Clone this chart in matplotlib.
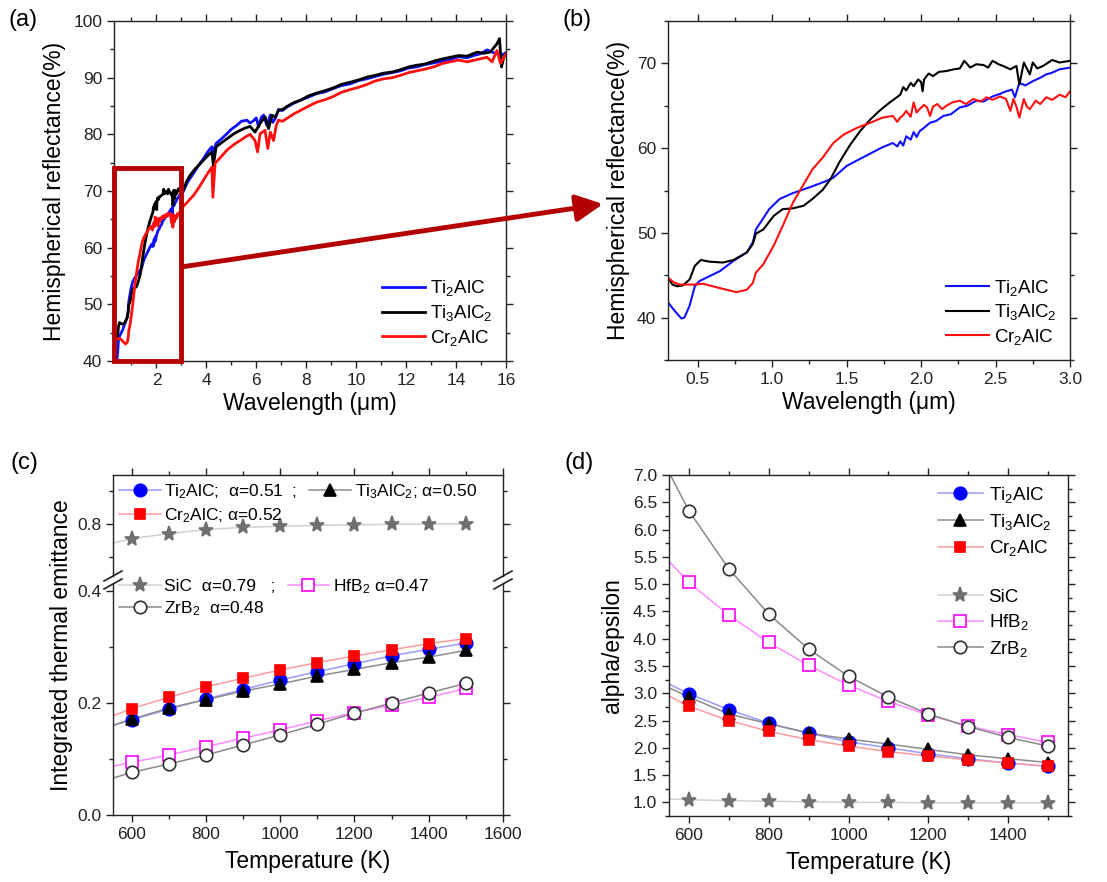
import matplotlib
matplotlib.use('Agg')
import matplotlib.pyplot as plt
from matplotlib.lines import Line2D
from matplotlib.patches import Rectangle
from matplotlib.ticker import MultipleLocator

plt.rcParams['font.family'] = ['Liberation Sans', 'DejaVu Sans']
plt.rcParams['mathtext.fontset'] = 'custom'
plt.rcParams['mathtext.rm'] = 'Liberation Sans'
plt.rcParams['mathtext.it'] = 'Liberation Sans:italic'
plt.rcParams['mathtext.default'] = 'rm'
plt.rcParams['axes.linewidth'] = 1.0

# ---- spectra (wavelength um, reflectance %) (a) and (b)
ti2alc_spec = [
    (0.30, 41.8), (0.345, 40.8), (0.39, 39.9), (0.41, 40.0), (0.445, 41.4),
    (0.48, 43.7), (0.51, 44.3), (0.65, 45.5), (0.74, 46.7), (0.83, 47.7),
    (0.87, 48.9), (0.89, 50.4), (0.92, 51.2), (0.98, 52.8), (1.05, 54.0),
    (1.14, 54.7), (1.27, 55.5), (1.36, 56.1), (1.41, 56.5), (1.50, 57.9),
    (1.63, 59.1), (1.74, 60.1), (1.81, 60.6), (1.84, 60.2), (1.86, 60.8),
    (1.88, 60.3), (1.90, 61.4), (1.93, 61.0), (1.95, 61.9), (1.97, 61.3),
    (1.99, 62.0), (2.02, 62.4), (2.06, 63.0), (2.10, 63.2), (2.15, 63.8),
    (2.20, 64.0), (2.26, 64.8), (2.31, 65.0), (2.37, 65.6), (2.42, 65.5),
    (2.48, 66.1), (2.53, 66.4), (2.57, 66.7), (2.61, 66.9), (2.63, 66.0),
    (2.66, 67.7), (2.70, 67.4), (2.75, 67.9), (2.80, 68.3), (2.84, 68.7),
    (2.88, 68.9), (2.93, 69.3), (3.00, 69.5), (3.06, 69.8), (3.25, 71.6),
    (3.48, 73.1), (3.70, 74.6), (3.88, 75.7), (4.05, 76.9), (4.22, 77.8),
    (4.26, 76.0), (4.30, 77.2), (4.39, 78.4), (4.60, 79.2), (4.82, 80.1),
    (5.00, 80.9), (5.22, 81.6), (5.40, 82.3), (5.62, 82.5), (5.75, 82.0),
    (5.89, 82.4), (6.00, 82.9), (6.09, 81.3), (6.20, 83.0), (6.29, 83.4),
    (6.42, 81.6), (6.56, 83.4), (6.66, 82.1), (6.76, 82.8), (6.89, 84.4),
    (7.05, 84.2), (7.22, 84.8), (7.50, 85.5), (7.76, 86.0), (8.10, 86.6),
    (8.43, 87.2), (8.75, 87.5), (9.09, 88.1), (9.40, 88.6), (9.76, 88.9),
    (10.10, 89.5), (10.43, 89.8), (10.75, 90.2), (11.10, 90.6), (11.45, 90.9),
    (11.77, 91.2), (12.10, 91.7), (12.43, 91.9), (12.75, 92.3), (13.10, 92.6),
    (13.45, 92.9), (13.77, 93.2), (14.10, 93.7), (14.44, 93.5), (14.70, 93.9),
    (14.97, 94.2), (15.24, 94.9), (15.51, 94.4), (15.78, 93.9), (16.00, 94.4),
]

ti3alc2_spec = [
    (0.30, 44.7), (0.33, 43.9), (0.36, 43.7), (0.40, 43.8), (0.445, 44.5),
    (0.48, 46.1), (0.52, 46.8), (0.58, 46.6), (0.67, 46.5), (0.74, 46.8),
    (0.83, 47.7), (0.87, 48.7), (0.89, 49.9), (0.94, 50.4), (1.01, 52.0),
    (1.07, 52.8), (1.14, 52.9), (1.21, 53.2), (1.27, 54.0), (1.34, 55.1),
    (1.39, 56.3), (1.45, 58.3), (1.52, 60.3), (1.59, 62.0), (1.66, 63.4),
    (1.72, 64.4), (1.79, 65.4), (1.86, 66.3), (1.88, 67.2), (1.90, 66.8),
    (1.93, 67.7), (1.95, 67.3), (1.98, 68.1), (2.00, 67.8), (2.01, 66.7),
    (2.02, 68.1), (2.05, 68.8), (2.08, 68.5), (2.12, 69.0), (2.17, 69.1),
    (2.22, 69.3), (2.26, 69.4), (2.29, 70.3), (2.33, 69.5), (2.37, 69.9),
    (2.42, 69.8), (2.45, 69.5), (2.48, 70.3), (2.52, 69.9), (2.55, 69.7),
    (2.60, 69.3), (2.64, 69.7), (2.66, 67.5), (2.69, 70.1), (2.73, 68.7),
    (2.75, 70.1), (2.78, 69.4), (2.82, 69.7), (2.88, 70.4), (2.93, 70.1),
    (3.00, 70.3), (3.06, 70.0), (3.20, 71.6), (3.35, 72.8), (3.55, 73.9),
    (3.75, 74.8), (4.00, 76.0), (4.22, 76.9), (4.28, 74.5), (4.39, 77.8),
    (4.60, 78.5), (4.82, 79.2), (5.10, 80.1), (5.35, 80.7), (5.55, 81.1),
    (5.75, 81.4), (5.95, 80.4), (6.15, 81.9), (6.35, 83.1), (6.49, 81.0),
    (6.62, 83.4), (6.75, 83.0), (6.89, 84.2), (7.05, 84.4), (7.22, 84.9),
    (7.50, 85.6), (7.76, 86.0), (8.10, 86.8), (8.43, 87.3), (8.75, 87.7),
    (9.09, 88.2), (9.40, 88.8), (9.76, 89.2), (10.10, 89.6), (10.43, 90.1),
    (10.75, 90.4), (11.10, 90.8), (11.45, 91.0), (11.77, 91.4), (12.10, 91.9),
    (12.43, 92.2), (12.75, 92.4), (13.10, 92.9), (13.45, 93.3), (13.77, 93.6),
    (14.10, 93.9), (14.44, 93.8), (14.84, 94.5), (15.10, 94.3), (15.37, 94.5),
    (15.64, 96.0), (15.74, 96.9), (15.82, 91.9), (15.91, 93.6), (16.00, 94.2),
]

cr2alc_spec = [
    (0.30, 44.7), (0.345, 44.1), (0.38, 43.9), (0.47, 43.9), (0.535, 44.0),
    (0.60, 43.7), (0.69, 43.3), (0.76, 43.0), (0.83, 43.3), (0.87, 44.1),
    (0.89, 45.3), (0.94, 46.3), (1.01, 48.5), (1.07, 50.8), (1.14, 53.6),
    (1.21, 55.7), (1.27, 57.5), (1.34, 58.9), (1.41, 60.6), (1.48, 61.6),
    (1.57, 62.4), (1.66, 63.0), (1.74, 63.6), (1.81, 63.8), (1.84, 63.1),
    (1.86, 63.6), (1.88, 63.9), (1.90, 64.4), (1.93, 63.7), (1.95, 65.4),
    (1.97, 64.2), (1.99, 64.6), (2.02, 65.1), (2.04, 64.8), (2.06, 63.8),
    (2.08, 64.9), (2.11, 65.2), (2.14, 64.6), (2.17, 65.0), (2.21, 65.4),
    (2.26, 65.6), (2.30, 65.2), (2.35, 65.8), (2.40, 65.5), (2.44, 66.0),
    (2.48, 65.7), (2.53, 66.1), (2.57, 65.8), (2.60, 64.4), (2.62, 65.8),
    (2.64, 64.9), (2.66, 63.6), (2.69, 65.8), (2.71, 64.9), (2.73, 64.6),
    (2.77, 65.6), (2.80, 65.2), (2.84, 66.0), (2.88, 65.7), (2.93, 66.3),
    (2.97, 66.0), (3.00, 66.7), (3.06, 67.2), (3.25, 68.1), (3.48, 69.2),
    (3.70, 70.6), (3.88, 71.9), (4.05, 73.1), (4.22, 74.2), (4.26, 68.9),
    (4.35, 74.9), (4.60, 76.1), (4.82, 77.2), (5.10, 78.2), (5.35, 78.9),
    (5.55, 79.5), (5.75, 80.0), (5.95, 78.9), (6.05, 76.9), (6.15, 80.1),
    (6.35, 80.7), (6.46, 77.5), (6.56, 80.4), (6.69, 78.9), (6.80, 81.6),
    (6.89, 82.5), (7.05, 82.3), (7.22, 82.8), (7.50, 83.6), (7.76, 84.2),
    (8.10, 85.0), (8.43, 85.7), (8.75, 86.1), (9.09, 86.7), (9.40, 87.4),
    (9.76, 87.9), (10.10, 88.3), (10.43, 88.8), (10.75, 89.4), (11.10, 89.8),
    (11.45, 90.0), (11.77, 90.4), (12.10, 90.9), (12.43, 91.2), (12.75, 91.5),
    (13.10, 91.9), (13.45, 92.5), (13.77, 92.8), (14.10, 93.1), (14.44, 92.8),
    (14.84, 93.2), (15.24, 93.6), (15.44, 92.8), (15.64, 94.8), (15.78, 92.5),
    (16.00, 94.2),
]

# ---- integrated emittance (c) and alpha/epsilon (d)
temps = [600, 700, 800, 900, 1000, 1100, 1200, 1300, 1400, 1500]
t_start = 550

eps_ti2alc = [0.170, 0.189, 0.207, 0.224, 0.241, 0.256, 0.270, 0.284, 0.296, 0.307]
eps_ti3alc2 = [0.171, 0.191, 0.206, 0.221, 0.234, 0.248, 0.260, 0.272, 0.282, 0.294]
eps_cr2alc = [0.190, 0.210, 0.229, 0.244, 0.259, 0.272, 0.284, 0.295, 0.306, 0.315]
eps_sic = [0.756, 0.771, 0.783, 0.790, 0.793, 0.796, 0.798, 0.799, 0.800, 0.801]
eps_hfb2 = [0.094, 0.107, 0.122, 0.137, 0.152, 0.168, 0.183, 0.196, 0.210, 0.226]
eps_zrb2 = [0.076, 0.091, 0.107, 0.125, 0.143, 0.162, 0.182, 0.200, 0.218, 0.235]
# curve values at the left edge (550 K), order: Ti2AlC, Ti3AlC2, Cr2AlC, SiC, HfB2, ZrB2
eps_start = [0.160, 0.160, 0.177, 0.743, 0.087, 0.066]

ae_ti2alc = [2.99, 2.70, 2.45, 2.27, 2.11, 2.00, 1.89, 1.80, 1.72, 1.66]
ae_ti3alc2 = [2.93, 2.62, 2.44, 2.27, 2.16, 2.07, 1.97, 1.87, 1.80, 1.73]
ae_cr2alc = [2.76, 2.50, 2.30, 2.15, 2.03, 1.93, 1.85, 1.78, 1.72, 1.66]
ae_sic = [1.05, 1.03, 1.02, 1.01, 1.00, 1.00, 0.99, 0.99, 0.99, 0.99]
ae_hfb2 = [5.03, 4.43, 3.93, 3.51, 3.15, 2.85, 2.60, 2.40, 2.24, 2.10]
ae_zrb2 = [6.34, 5.28, 4.45, 3.81, 3.31, 2.93, 2.62, 2.39, 2.19, 2.03]
ae_start = [3.17, 3.10, 2.95, 1.06, 5.42, 7.05]

spec_labels = [r'Ti$_2$AlC', r'Ti$_3$AlC$_2$', r'Cr$_2$AlC']
spec_colors = ['#1010ff', '#000000', '#ff1010']
c_labels_top = [r'Ti$_2$AlC;  α=0.51  ;', r'Ti$_3$AlC$_2$; α=0.50', r'Cr$_2$AlC; α=0.52']
c_labels_bottom = ['SiC  α=0.79   ;', r'HfB$_2$ α=0.47', r'ZrB$_2$  α=0.48']

# marker styles: (marker, face, edge, line colour, size)
styles = [
    ('o', '#0000ff', '#0000ff', '#9a9aff', 9),
    ('^', '#000000', '#000000', '#8c8c8c', 9),
    ('s', '#ff0000', '#ff0000', '#ff9a9a', 7.5),
    ('*', '#707070', '#707070', '#cfcfcf', 11),
    ('s', 'white', '#ff00ff', '#ff8cff', 8),
    ('o', 'white', '#303030', '#8a8a8a', 9),
]

W, H = 1107, 882
fig = plt.figure(figsize=(W / 100, H / 100), dpi=100)


def fbox(left, top, right, bottom):
    return [left / W, 1 - bottom / H, (right - left) / W, (bottom - top) / H]


def style(ax, right=True, top=True):
    ax.tick_params(which='both', direction='out', top=top, right=right,
                   labelsize=12.5, colors='#222222', width=1.0)
    ax.tick_params(which='major', length=5)
    ax.tick_params(which='minor', length=3)
    for s in ax.spines.values():
        s.set_color('#222222')


def unzip(pairs):
    return [p[0] for p in pairs], [p[1] for p in pairs]


# ---- (a)
ax_a = fig.add_axes(fbox(114, 21, 506, 361))
for spec, lab, col in zip([ti2alc_spec, ti3alc2_spec, cr2alc_spec], spec_labels, spec_colors):
    wl, r = unzip(spec)
    ax_a.plot(wl, r, color=col, lw=2.0, label=lab)
ax_a.set_xlim(0.3, 16)
ax_a.set_ylim(40, 100)
ax_a.xaxis.set_major_locator(MultipleLocator(2))
ax_a.xaxis.set_minor_locator(MultipleLocator(1))
ax_a.yaxis.set_major_locator(MultipleLocator(10))
ax_a.yaxis.set_minor_locator(MultipleLocator(5))
style(ax_a)
ax_a.set_xlabel('Wavelength (μm)', fontsize=16.5, labelpad=3)
ax_a.set_ylabel('Hemispherical reflectance(%)', fontsize=16.5, labelpad=5)
ax_a.legend(frameon=False, loc='lower right', fontsize=13.5, handlelength=2.3,
            handletextpad=0.3, labelspacing=0.25, borderaxespad=0.3,
            bbox_to_anchor=(1.0, 0.0))
ax_a.add_patch(Rectangle((0.3, 40), 2.7, 34, fill=False, ec='#b40000', lw=3.5,
                         clip_on=False, zorder=5))
ax_a.annotate('', xy=(603 / W, 1 - 204 / H), xycoords='figure fraction',
              xytext=(3.0, 56.6), textcoords='data', annotation_clip=False,
              arrowprops=dict(arrowstyle='-|>,head_length=0.9,head_width=0.45',
                              color='#b40000', lw=3.5, shrinkA=0, shrinkB=0,
                              mutation_scale=18))

# ---- (b)
ax_b = fig.add_axes(fbox(668, 21, 1070, 360))
for spec, lab, col in zip([ti2alc_spec, ti3alc2_spec, cr2alc_spec], spec_labels, spec_colors):
    wl, r = unzip(spec)
    ax_b.plot(wl, r, color=col, lw=1.5, label=lab)
ax_b.set_xlim(0.3, 3.0)
ax_b.set_ylim(35, 75)
ax_b.xaxis.set_major_locator(MultipleLocator(0.5))
ax_b.xaxis.set_minor_locator(MultipleLocator(0.25))
ax_b.yaxis.set_major_locator(MultipleLocator(10))
ax_b.yaxis.set_minor_locator(MultipleLocator(5))
ax_b.xaxis.set_major_formatter(plt.FuncFormatter(lambda v, p: f'{v:.1f}'))
style(ax_b)
ax_b.set_xlabel('Wavelength (μm)', fontsize=16.5, labelpad=3)
ax_b.set_ylabel('Hemispherical reflectance(%)', fontsize=16.5, labelpad=5)
ax_b.legend(frameon=False, loc='lower right', fontsize=13.5, handlelength=2.3,
            handletextpad=0.3, labelspacing=0.25, borderaxespad=0.3,
            bbox_to_anchor=(1.0, 0.0))

# ---- (c) broken y axis
ax_c1 = fig.add_axes(fbox(113, 475, 503, 576))
ax_c2 = fig.add_axes(fbox(113, 584, 503, 815))
eps_all = [eps_ti2alc, eps_ti3alc2, eps_cr2alc, eps_sic, eps_hfb2, eps_zrb2]
for ax in (ax_c1, ax_c2):
    for vals, y0, (mk, fc, ec, lc, ms) in zip(eps_all, eps_start, styles):
        ax.plot([t_start] + temps, [y0] + vals, color=lc, lw=1.1, zorder=2)
        ax.plot(temps, vals, ls='none', marker=mk, mfc=fc, mec=ec, ms=ms,
                mew=1.2, zorder=3)
    ax.set_xlim(550, 1600)
    ax.xaxis.set_major_locator(MultipleLocator(200))
    ax.xaxis.set_minor_locator(MultipleLocator(100))
    ax.yaxis.set_major_locator(MultipleLocator(0.2))
    ax.yaxis.set_minor_locator(MultipleLocator(0.1))
    ax.yaxis.set_major_formatter(plt.FuncFormatter(lambda v, p: f'{v:.1f}'))
ax_c1.set_ylim(0.644, 0.947)
ax_c2.set_ylim(0.0, 0.4125)
style(ax_c1)
style(ax_c2, top=False)
ax_c1.spines['bottom'].set_visible(False)
ax_c2.spines['top'].set_visible(False)
ax_c1.tick_params(which='both', bottom=False, labelbottom=False)
ax_c2.set_xlabel('Temperature (K)', fontsize=16.5, labelpad=6)
fig.text(62 / W, 1 - 645 / H, 'Integrated thermal emittance', fontsize=16.5,
         rotation=90, ha='center', va='center')
for xb in (113, 503):
    for dy in (-4, 4):
        yb = 580 + dy
        fig.add_artist(Line2D([(xb - 9) / W, (xb + 9) / W],
                              [1 - (yb + 5) / H, 1 - (yb - 5) / H],
                              color='#222222', lw=1.2))

hc = [Line2D([], [], color=lc, lw=1.1, marker=mk, mfc=fc, mec=ec, ms=ms, mew=1.2)
      for (mk, fc, ec, lc, ms) in styles]
# ncol=2 fills column by column, so order the entries to read row-wise
leg1 = ax_c2.legend([hc[0], hc[2], hc[1]],
                    [c_labels_top[0], c_labels_top[2], c_labels_top[1]],
                    ncol=2, frameon=False, fontsize=12.5, handlelength=2.4,
                    handletextpad=0.2, labelspacing=0.3, columnspacing=0.7,
                    loc='upper left', bbox_to_anchor=(112 / W, 1 - 475 / H),
                    bbox_transform=fig.transFigure, borderaxespad=0)
ax_c2.add_artist(leg1)
ax_c2.legend([hc[3], hc[5], hc[4]],
             [c_labels_bottom[0], c_labels_bottom[2], c_labels_bottom[1]],
             ncol=2, frameon=False, fontsize=12.5, handlelength=2.4,
             handletextpad=0.2, labelspacing=0.3, columnspacing=0.7,
             loc='upper left', bbox_to_anchor=(112 / W, 1 - 570 / H),
             bbox_transform=fig.transFigure, borderaxespad=0)

# ---- (d)
ax_d = fig.add_axes(fbox(669, 475, 1068, 816))
ae_all = [ae_ti2alc, ae_ti3alc2, ae_cr2alc, ae_sic, ae_hfb2, ae_zrb2]
for vals, y0, (mk, fc, ec, lc, ms) in zip(ae_all, ae_start, styles):
    ax_d.plot([t_start] + temps, [y0] + vals, color=lc, lw=1.1, zorder=2)
    ax_d.plot(temps, vals, ls='none', marker=mk, mfc=fc, mec=ec, ms=ms,
              mew=1.2, zorder=3)
ax_d.set_xlim(550, 1550)
ax_d.set_ylim(0.75, 7.0)
ax_d.xaxis.set_major_locator(MultipleLocator(200))
ax_d.xaxis.set_minor_locator(MultipleLocator(100))
ax_d.yaxis.set_major_locator(MultipleLocator(0.5))
ax_d.yaxis.set_minor_locator(MultipleLocator(0.25))
ax_d.yaxis.set_major_formatter(plt.FuncFormatter(lambda v, p: f'{v:.1f}'))
style(ax_d)
ax_d.set_xlabel('Temperature (K)', fontsize=16.5, labelpad=6)
ax_d.set_ylabel('alpha/epsilon', fontsize=16.5, labelpad=6)
spacer = Line2D([], [], ls='none')
ax_d.legend(hc[:3] + [spacer] + hc[3:],
            spec_labels + [' '] + ['SiC', r'HfB$_2$', r'ZrB$_2$'],
            frameon=False, fontsize=13.5, handlelength=2.4, handletextpad=0.3,
            labelspacing=0.35, loc='upper right', bbox_to_anchor=(1.0, 1.02))

# panel letters
for x, y, t in [(8, 20, '(a)'), (563, 20, '(b)'), (10, 463, '(c)'), (565, 463, '(d)')]:
    fig.text(x / W, 1 - y / H, t, fontsize=17, va='center', ha='left')

fig.savefig('out.png', dpi=100)
